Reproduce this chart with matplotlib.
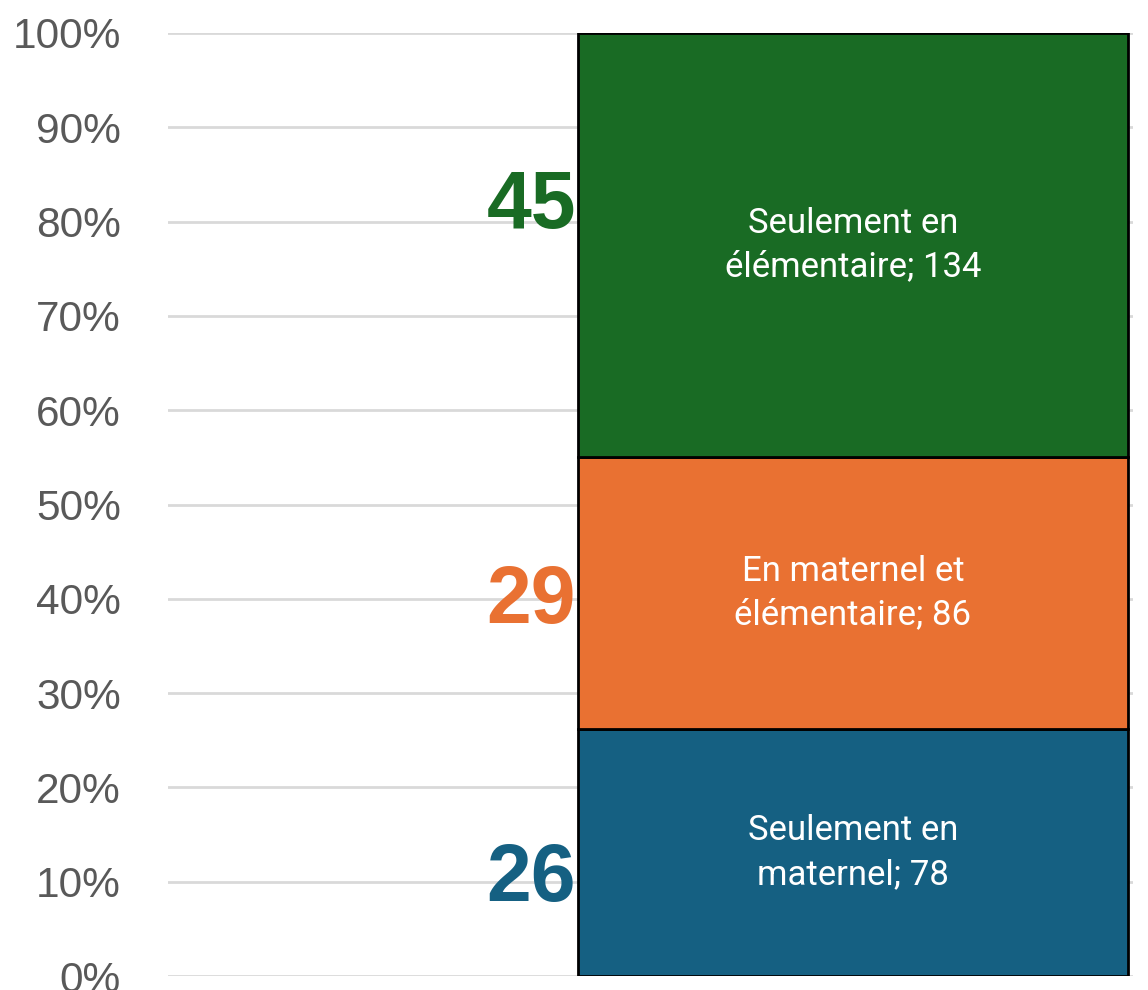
import numpy as np
import matplotlib.pyplot as plt
from matplotlib.ticker import PercentFormatter

# data
categories = ["Seulement en\nmaternel", "En maternel et\nélémentaire", "Seulement en\nélémentaire"]
counts = [78, 86, 134]
colors = ["#156082", "#E97132", "#196B24"]
big_labels = ["26", "29", "45"]
big_label_y = [10.2, 39.7, 81.5]

total = sum(counts)
shares = [c / total * 100 for c in counts]

fig = plt.figure(figsize=(11.48, 9.9), dpi=100)
ax = fig.add_axes([168 / 1148, 14 / 990, (1133 - 168) / 1148, 943 / 990])

bottom = 0
width = 0.55
for cat, cnt, sh, col in zip(categories, counts, shares, colors):
    ax.bar(0, sh, width=width, bottom=bottom, color=col, edgecolor="black", linewidth=2, zorder=3)
    ax.text(0, bottom + sh / 2, f"{cat}; {cnt}", ha="center", va="center",
            color="white", fontsize=25, family="Roboto", linespacing=1.42, zorder=4)
    bottom += sh

for lab, y, col in zip(big_labels, big_label_y, colors):
    ax.text(-width / 2 - 0.002, y, lab, ha="right", va="center", color=col,
            fontsize=58, fontweight="bold", family="Liberation Sans", zorder=4)

ax.set_xlim(-width / 2 - 0.410, width / 2 + 0.005)
ax.set_ylim(0, 100)
ax.set_yticks(np.arange(0, 101, 10))
ax.yaxis.set_major_formatter(PercentFormatter(decimals=0))
ax.set_xticks([])
ax.tick_params(axis="y", length=0, pad=34, labelsize=30.5, labelcolor="#595959")
for lab in ax.get_yticklabels():
    lab.set_family("Liberation Sans")
ax.grid(axis="y", color="#D9D9D9", linewidth=2, zorder=0)
for s in ax.spines.values():
    s.set_visible(False)

fig.savefig("out.png", dpi=100)
